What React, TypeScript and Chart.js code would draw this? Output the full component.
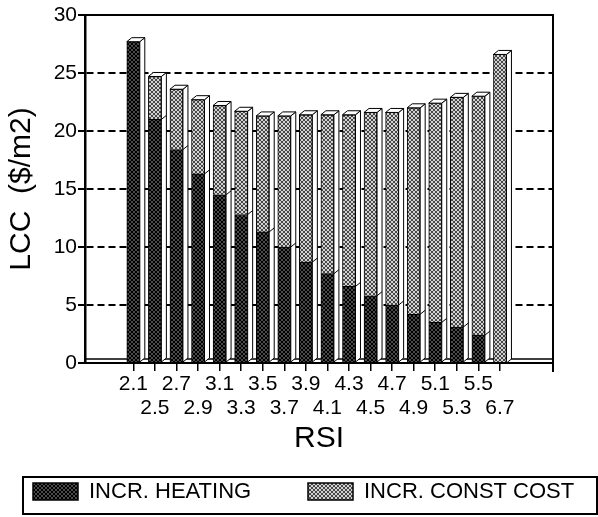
import React, { useEffect, useRef } from 'react';
import { Chart, registerables } from 'chart.js';

Chart.register(...registerables);

const rsi = ['2.1', '2.5', '2.7', '2.9', '3.1', '3.3', '3.5', '3.7', '3.9', '4.1', '4.3', '4.5', '4.7', '4.9', '5.1', '5.3', '5.5', '6.7'];
const incrHeating = [27.7, 21.0, 18.4, 16.3, 14.5, 12.8, 11.3, 10.0, 8.7, 7.7, 6.6, 5.8, 5.0, 4.2, 3.5, 3.1, 2.4, 0];
const incrConstCost = [0, 3.7, 5.2, 6.4, 7.7, 8.9, 10.0, 11.3, 12.7, 13.7, 14.8, 15.8, 16.6, 17.8, 18.9, 19.8, 20.6, 26.6];
const seriesNames = ['INCR. HEATING', 'INCR. CONST COST'];
const yTitle = 'LCC  ($/m2)';
const xTitle = 'RSI';

const FONT = "'Liberation Sans', Arial, Helvetica, sans-serif";

function makePattern(bg: string, fg: string) {
  const c = document.createElement('canvas');
  c.width = 4;
  c.height = 4;
  const g = c.getContext('2d')!;
  g.fillStyle = bg;
  g.fillRect(0, 0, 4, 4);
  g.fillStyle = fg;
  const pts = [[0, 0], [1, 1], [2, 2], [3, 3], [3, 0], [2, 1], [1, 2], [0, 3]];
  pts.forEach(([x, y]) => g.fillRect(x, y, 1, 1));
  return g.createPattern(c, 'repeat')!;
}

const depthPlugin = {
  id: 'depth3d',
  beforeDatasetsDraw(chart: any) {
    const { ctx, chartArea: a } = chart;
    ctx.save();
    ctx.strokeStyle = '#000';
    ctx.lineWidth = 1.5;
    ctx.beginPath();
    ctx.moveTo(a.left, a.bottom - 4);
    ctx.lineTo(a.right, a.bottom - 4);
    ctx.stroke();
    ctx.restore();
  },
  afterDatasetsDraw(chart: any) {
    const ctx = chart.ctx;
    const m0 = chart.getDatasetMeta(0);
    const m1 = chart.getDatasetMeta(1);
    const dx = 5;
    const dy = 4;
    ctx.save();
    ctx.lineWidth = 1;
    ctx.strokeStyle = '#000';
    ctx.fillStyle = '#fff';
    for (let i = 0; i < m0.data.length; i++) {
      const b0 = m0.data[i];
      const b1 = m1.data[i];
      const top = Math.min(b0.y, b1.y);
      const base = b0.base;
      const half = b0.width / 2;
      const l = b0.x - half;
      const r = b0.x + half;
      ctx.beginPath();
      ctx.moveTo(r, top);
      ctx.lineTo(r + dx, top - dy);
      ctx.lineTo(r + dx, base - dy);
      ctx.lineTo(r, base);
      ctx.closePath();
      ctx.fill();
      ctx.stroke();
      ctx.beginPath();
      ctx.moveTo(l, top);
      ctx.lineTo(l + dx, top - dy);
      ctx.lineTo(r + dx, top - dy);
      ctx.lineTo(r, top);
      ctx.closePath();
      ctx.fill();
      ctx.stroke();
      if (b0.y > b1.y + 1 && b0.y < base - 1) {
        ctx.beginPath();
        ctx.moveTo(r, b0.y);
        ctx.lineTo(r + dx, b0.y - dy);
        ctx.stroke();
      }
    }
    ctx.restore();
  },
};

const framePlugin = {
  id: 'frame',
  afterDraw(chart: any) {
    const { ctx, chartArea: a } = chart;
    ctx.save();
    ctx.strokeStyle = '#000';
    ctx.lineWidth = 2;
    ctx.beginPath();
    ctx.moveTo(a.left, a.top);
    ctx.lineTo(a.right, a.top);
    ctx.lineTo(a.right, a.bottom + 9);
    ctx.stroke();
    ctx.restore();
  },
};

const legendBoxPlugin = {
  id: 'legendBox',
  afterDraw(chart: any) {
    const ctx = chart.ctx;
    const box = { left: 23, top: 477, right: 597, bottom: 514 };
    const itemX = [33, 308];
    ctx.save();
    ctx.strokeStyle = '#000';
    ctx.lineWidth = 2;
    ctx.strokeRect(box.left, box.top, box.right - box.left, box.bottom - box.top);
    ctx.font = `22px ${FONT}`;
    ctx.textBaseline = 'middle';
    ctx.textAlign = 'left';
    ctx.fillStyle = '#000';
    chart.data.datasets.forEach((ds: any, i: number) => {
      const x = itemX[i];
      ctx.fillStyle = ds.backgroundColor;
      ctx.fillRect(x, 483, 45, 17);
      ctx.lineWidth = 1.5;
      ctx.strokeRect(x, 483, 45, 17);
      ctx.fillStyle = '#000';
      ctx.fillText(ds.label, x + 56, 492);
    });
    ctx.restore();
  },
};

export default function App() {
  const ref = useRef<HTMLCanvasElement>(null);
  useEffect(() => {
    if (!ref.current) return;
    Chart.defaults.font.family = FONT;
    Chart.defaults.color = '#000';
    const dark = makePattern('#4a4a4a', '#000000');
    const light = makePattern('#d2d2d2', '#474747');
    const chart = new Chart(ref.current, {
      type: 'bar',
      data: {
        datasets: [
          {
            label: seriesNames[0],
            data: incrHeating.map((v, i) => ({ x: i, y: v })),
            backgroundColor: dark,
            borderColor: '#000',
            borderWidth: 1,
            barThickness: 13,
          },
          {
            label: seriesNames[1],
            data: incrConstCost.map((v, i) => ({ x: i, y: v })),
            backgroundColor: light,
            borderColor: '#000',
            borderWidth: 1,
            barThickness: 13,
          },
        ],
      },
      options: {
        responsive: false,
        animation: false,
        layout: { padding: { top: 15, right: 45, left: 0, bottom: 58 } },
        plugins: {
          legend: { display: false },
          tooltip: { enabled: false },
        },
        scales: {
          x: {
            type: 'linear',
            min: -2.24,
            max: 19.46,
            offset: false,
            stacked: true,
            afterBuildTicks: (s: any) => {
              s.ticks = rsi.map((_, i) => ({ value: i }));
            },
            afterFit: (s: any) => {
              s.height = 96;
            },
            ticks: {
              autoSkip: false,
              maxRotation: 0,
              minRotation: 0,
              padding: 1,
              font: { size: 21, family: FONT, lineHeight: 1.15 },
              color: '#000',
              callback: (v: any) => {
                const i = Math.round(Number(v));
                return i % 2 === 0 ? [rsi[i]] : ['', rsi[i]];
              },
            },
            grid: { display: true, offset: false, drawOnChartArea: false, tickLength: 8, color: '#000', lineWidth: 1.5 },
            border: { display: true, color: '#000', width: 2 },
            title: { display: true, text: xTitle, font: { size: 30, family: FONT }, color: '#000', padding: { top: 2, bottom: 2 } },
          },
          y: {
            stacked: true,
            min: 0,
            max: 30,
            afterFit: (s: any) => {
              s.width = 85;
            },
            ticks: { stepSize: 5, font: { size: 21, family: FONT }, color: '#000', padding: 1 },
            grid: {
              color: (c: any) => (c.tick && (c.tick.value === 0 || c.tick.value === 30) ? 'rgba(0,0,0,0)' : '#000'),
              lineWidth: 2,
              tickLength: 7,
              tickColor: '#000',
              tickWidth: 2,
            },
            border: { display: true, color: '#000', width: 2.5, dash: [7, 4] },
            title: { display: true, text: yTitle, font: { size: 30, family: FONT }, color: '#000', padding: { top: 4, bottom: 0 } },
          },
        },
      },
      plugins: [depthPlugin, framePlugin, legendBoxPlugin],
    } as any);
    return () => chart.destroy();
  }, []);
  return (
    <div style={{ position: 'fixed', left: 0, top: 0, width: 598, height: 517, background: '#fff' }}>
      <canvas ref={ref} width={598} height={517} />
    </div>
  );
}
